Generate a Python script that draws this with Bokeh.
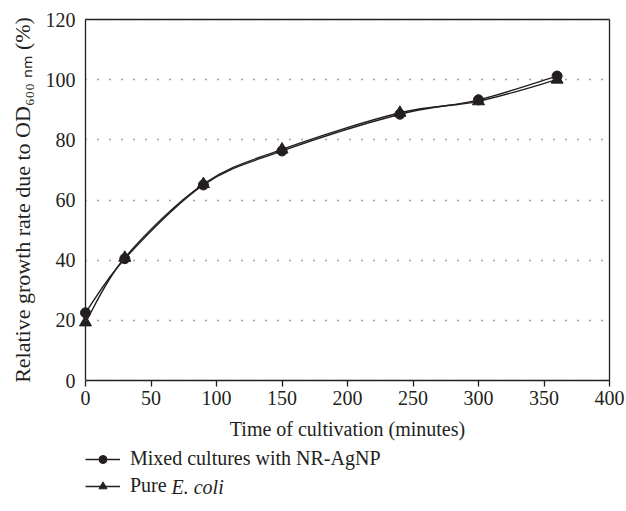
from bokeh.plotting import figure
from bokeh.models import (ColumnDataSource, Legend, LegendItem, Label, FixedTicker,
                          Range1d, LinearAxis)
from bokeh.embed import file_html
from bokeh.resources import INLINE

# ---- data ----
time_min = [0, 30, 90, 150, 240, 300, 360]
mixed = [22.5, 40.5, 65.0, 76.3, 88.5, 93.3, 101.2]
pure = [19.3, 40.8, 65.3, 76.8, 89.0, 92.8, 100.0]
x_ticks = [0, 50, 100, 150, 200, 250, 300, 350, 400]
y_ticks = [0, 20, 40, 60, 80, 100, 120]
series_names = ["Mixed cultures with NR-AgNP", "Pure"]

FONT = "Liberation Serif"
INK = "#231f20"

# layout (pixels): plot box x=85..609, y=19..380 on a 626x511 canvas;
# the frame covers the whole canvas so that nothing outside the box is clipped.
W, H = 626, 511
BOX_L, BOX_R, BOX_T, BOX_B = 85, 609, 19, 380
XMAX, YMAX = 400.0, 120.0
x_px_per = (BOX_R - BOX_L) / XMAX
y_px_per = (BOX_B - BOX_T) / YMAX
x_rng = Range1d(-BOX_L / x_px_per, (W - BOX_L) / x_px_per)
y_rng = Range1d(-(H - BOX_B) / y_px_per, BOX_B / y_px_per)

p = figure(frame_width=W, frame_height=H, output_backend="svg",
           toolbar_location=None, x_range=x_rng, y_range=y_rng,
           min_border_left=0, min_border_right=0, min_border_top=0,
           min_border_bottom=0, background_fill_color="white",
           border_fill_color="white")
p.title.visible = False
p.outline_line_color = None
p.xgrid.visible = False
p.ygrid.visible = False

# x axis
xa = p.xaxis[0]
xa.ticker = FixedTicker(ticks=x_ticks)
xa.fixed_location = 0
xa.bounds = (0, XMAX)
xa.major_tick_in = 0
xa.major_tick_out = 6
xa.major_tick_line_color = INK
xa.major_tick_line_width = 1.3
xa.major_label_standoff = 4
xa.axis_label = "Time of cultivation (minutes)"
xa.axis_label_text_font_size = "20px"
xa.axis_label_standoff = 10

# y axis; its ticks, drawn inwards and dotted, form the horizontal grid lines
ya = p.yaxis[0]
ya.ticker = FixedTicker(ticks=y_ticks)
ya.fixed_location = 0
ya.bounds = (0, YMAX)
ya.major_tick_out = 0
ya.major_tick_in = BOX_R - BOX_L
ya.major_tick_line_color = "#444444"
ya.major_tick_line_width = 1.5
ya.major_tick_line_dash = "1 11"
ya.major_label_standoff = 10
ya.axis_label = "Relative growth rate due to OD\u2086\u2080\u2080 \u2099\u2098 (%)"
ya.axis_label_text_font_size = "22px"
ya.axis_label_standoff = 8

for ax in (xa, ya):
    ax.axis_line_color = INK
    ax.axis_line_width = 1.3
    ax.major_label_text_font = FONT
    ax.major_label_text_font_size = "20px"
    ax.major_label_text_color = INK
    ax.minor_tick_line_color = None
    ax.axis_label_text_font = FONT
    ax.axis_label_text_font_style = "normal"
    ax.axis_label_text_color = INK

# top and right borders of the plot box
for loc, fixed, bnds in (("above", YMAX, (0, XMAX)), ("right", XMAX, (0, YMAX))):
    ax = LinearAxis(ticker=FixedTicker(ticks=[0]), bounds=bnds, fixed_location=fixed,
                    axis_line_color=INK, axis_line_width=1.3,
                    major_tick_line_color=None, minor_tick_line_color=None,
                    major_label_overrides={0: ""}, major_label_text_font_size="1px")
    p.add_layout(ax, loc)


def smooth_controls(xs, ys):
    xs = list(xs); ys = list(ys)
    n = len(xs)
    x0, y0, x1, y1, cx0, cy0, cx1, cy1 = [], [], [], [], [], [], [], []
    for i in range(n - 1):
        im1 = max(i - 1, 0)
        ip2 = min(i + 2, n - 1)
        x0.append(xs[i]); y0.append(ys[i])
        x1.append(xs[i + 1]); y1.append(ys[i + 1])
        cx0.append(xs[i] + (xs[i + 1] - xs[im1]) / 6.0)
        cy0.append(ys[i] + (ys[i + 1] - ys[im1]) / 6.0)
        cx1.append(xs[i + 1] - (xs[ip2] - xs[i]) / 6.0)
        cy1.append(ys[i + 1] - (ys[ip2] - ys[i]) / 6.0)
    return dict(x0=x0, y0=y0, x1=x1, y1=y1, cx0=cx0, cy0=cy0, cx1=cx1, cy1=cy1)


items = []
for label, ys, marker, size in ((series_names[0], mixed, "circle", 10),
                                (series_names[1], pure, "triangle", 12)):
    src = ColumnDataSource(smooth_controls(time_min, ys))
    b = p.bezier(x0="x0", y0="y0", x1="x1", y1="y1", cx0="cx0", cy0="cy0",
                 cx1="cx1", cy1="cy1", source=src, line_color=INK, line_width=1.4)
    s = p.scatter(time_min, ys, marker=marker, size=size, fill_color=INK,
                  line_color=INK)
    items.append(LegendItem(label=label, renderers=[b, s]))

legend = Legend(items=items, location=(BOX_L, 14), orientation="vertical",
                label_text_font=FONT, label_text_font_size="20px",
                label_text_color=INK, glyph_width=35, glyph_height=20,
                label_height=20, label_standoff=10, spacing=4, padding=0,
                margin=0, border_line_alpha=0, background_fill_alpha=0)
p.add_layout(legend, "center")

# italic species name of the second legend entry
p.add_layout(Label(x=(171 - BOX_L) / x_px_per, y=-(486 - BOX_B) / y_px_per,
                   x_units="data", y_units="data",
                   text="E. coli", text_font=FONT, text_font_size="20px",
                   text_font_style="italic", text_color=INK,
                   text_baseline="middle"))

open("out.html", "w").write(file_html(p, INLINE))
